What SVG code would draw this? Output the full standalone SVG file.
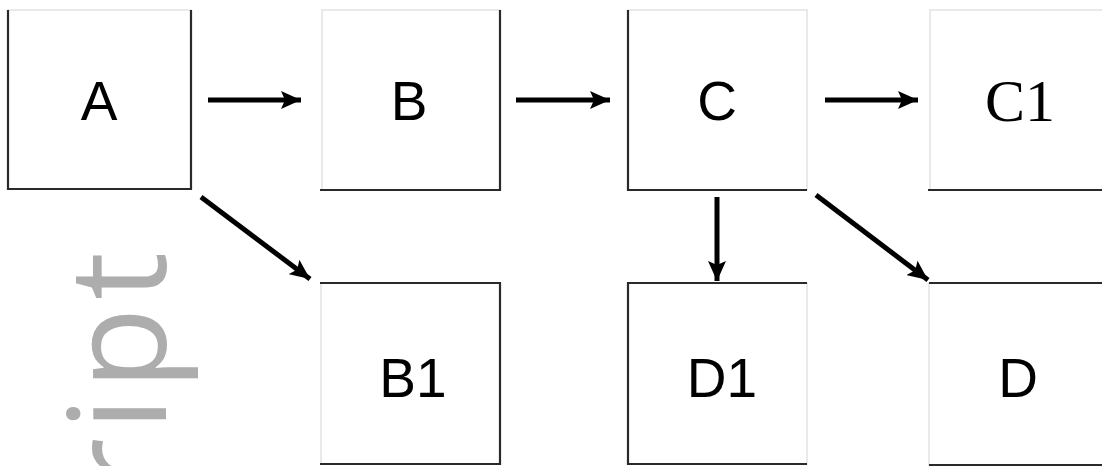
<svg xmlns="http://www.w3.org/2000/svg" width="1102" height="466" viewBox="0 0 1102 466">
  <defs>
    <marker id="head" viewBox="0 0 20 18" refX="20" refY="9" markerWidth="20" markerHeight="18" markerUnits="userSpaceOnUse" orient="auto">
      <path d="M0,0 L20,9 L0,18 L4,9 Z" fill="#000"/>
    </marker>
  </defs>
  <style>
    .box { fill: #fff; stroke: #e2e2e2; stroke-width: 1.5; }
    .edge { fill: none; stroke: #2a2a2a; stroke-width: 2.2; }
    .lbl { font-family: "Liberation Sans", Arial, sans-serif; font-size: 55px; fill: #000; text-anchor: middle; }
    .serif { font-family: "Liberation Serif", "Times New Roman", serif; font-size: 60px; }
    .conn { stroke: #000; stroke-width: 5; fill: none; marker-end: url(#head); }
    .wm { font-family: "Open Sans", "Noto Sans", sans-serif; font-size: 135px; letter-spacing: 7px; fill: #adadad; text-anchor: end; }
  </style>
  <rect width="1102" height="466" fill="#fff"/>

  <!-- rotated background word -->
  <text class="wm" transform="translate(166,245) rotate(-90)">ript</text>

  <g id="node-A">
    <rect class="box" x="8" y="10" width="183" height="179"/>
    <path class="edge" d="M8,10 V189 H191 V10"/>
    <text class="lbl" x="99" y="120">A</text>
  </g>
  <g id="node-B">
    <rect class="box" x="322" y="10" width="178" height="180"/>
    <path class="edge" d="M320,190 H500 V10"/>
    <text class="lbl" x="409" y="120">B</text>
  </g>
  <g id="node-C">
    <rect class="box" x="628" y="10" width="179" height="180"/>
    <path class="edge" d="M628,10 V190 H807"/>
    <text class="lbl" x="717" y="120">C</text>
  </g>
  <g id="node-C1">
    <rect class="box" x="930" y="10" width="190" height="180"/>
    <path class="edge" d="M928,190 H1102"/>
    <text class="lbl serif" x="1020" y="121">C1</text>
  </g>
  <g id="node-B1">
    <rect class="box" x="321" y="283" width="179" height="181"/>
    <path class="edge" d="M320,283 H500 V464 H320"/>
    <text class="lbl" x="413" y="397">B1</text>
  </g>
  <g id="node-D1">
    <rect class="box" x="628" y="283" width="179" height="181"/>
    <path class="edge" d="M807,283 H628 V464 H807"/>
    <text class="lbl" x="722" y="397">D1</text>
  </g>
  <g id="node-D">
    <rect class="box" x="929" y="283" width="190" height="182"/>
    <path class="edge" d="M929,283 H1102 M929,465 H1102"/>
    <text class="lbl" x="1018" y="397">D</text>
  </g>

  <g id="connectors">
    <line class="conn" x1="208" y1="100" x2="301" y2="100"/>
    <line class="conn" x1="516" y1="100" x2="610" y2="100"/>
    <line class="conn" x1="825" y1="100" x2="918" y2="100"/>
    <line class="conn" x1="201" y1="197" x2="310" y2="279"/>
    <line class="conn" x1="717" y1="197" x2="717" y2="281"/>
    <line class="conn" x1="816" y1="195" x2="928" y2="280"/>
  </g>
</svg>
